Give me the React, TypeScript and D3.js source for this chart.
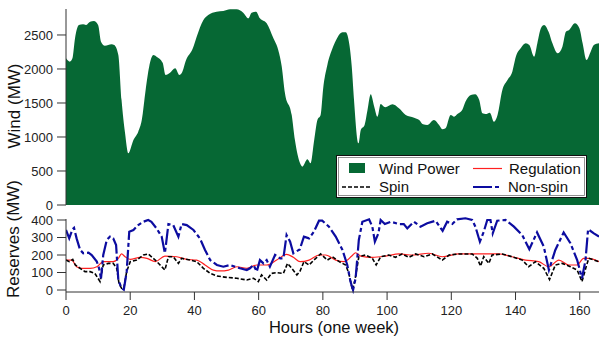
import React from "react";
import * as d3 from "d3";

// ---------- data ----------
const windHours = [0, 1.2, 2, 2.8, 4, 5.3, 6.2, 7.5, 8.7, 10, 10.9, 12.1, 14.2, 15, 16.3, 17.3, 18.4, 19.4, 21, 22.5, 23.6, 24.8, 25.9, 27.2, 28.2, 30.1, 31, 32.4, 34, 35.3, 36, 37.4, 39.5, 40.7, 42.8, 44.3, 46.9, 49, 51.1, 53.1, 55.2, 56.8, 57.8, 59.2, 60.4, 62.5, 64.6, 66.1, 67.2, 68.2, 70.3, 71.3, 72.9, 73.6, 75.2, 76.2, 77.3, 78.3, 79.3, 80.1, 81.4, 83, 84.5, 86.1, 87.1, 87.9, 89, 89.7, 91.1, 91.8, 93, 93.9, 94.9, 96, 97, 98, 99.4, 101.7, 103.7, 105.8, 108.4, 110, 111.2, 112.5, 114.6, 116.2, 117.2, 118.2, 119.8, 120.9, 121.9, 123.4, 124.4, 126.1, 127.4, 128.7, 129.7, 130.7, 132, 133.3, 134.4, 135.9, 137.5, 139, 140.1, 141.6, 143.2, 144.3, 145.8, 146.8, 147.9, 148.9, 150.3, 151.5, 153.1, 154.6, 155.7, 156.7, 158.5, 159.9, 160.9, 162.1, 163.4, 164.4, 166];
const windMW = [2157, 2108, 2157, 2450, 2647, 2657, 2647, 2696, 2706, 2647, 2402, 2343, 2363, 2353, 2206, 1544, 1054, 760, 956, 1078, 1250, 1691, 2034, 2206, 2181, 2093, 1912, 1946, 2010, 1912, 1936, 2132, 2304, 2475, 2720, 2794, 2843, 2853, 2877, 2877, 2828, 2745, 2828, 2843, 2745, 2672, 2451, 2279, 2034, 1642, 1324, 956, 613, 564, 672, 613, 956, 1250, 1324, 1716, 2059, 2304, 2461, 2539, 2539, 2451, 2034, 1544, 907, 1103, 1176, 1397, 1628, 1446, 1299, 1485, 1436, 1480, 1421, 1324, 1284, 1250, 1186, 1176, 1250, 1176, 1113, 1127, 1324, 1299, 1338, 1397, 1519, 1618, 1628, 1544, 1348, 1338, 1358, 1225, 1324, 1691, 1838, 1961, 2181, 2304, 2377, 2353, 2181, 2377, 2598, 2647, 2549, 2377, 2230, 2328, 2549, 2574, 2672, 2598, 2377, 2132, 2255, 2353, 2377];

const regHours = [0, 1.8, 3.3, 4.9, 7.5, 9.6, 11.6, 14.7, 16.3, 17.3, 18.4, 20, 23.1, 25.2, 27.8, 30.8, 34.5, 37.6, 40.7, 43.3, 45.9, 48, 50.6, 53.2, 56.3, 59.4, 62.5, 65.6, 68.7, 70.8, 72.9, 75.7, 78.8, 80.9, 84, 86.6, 89, 90.2, 91.8, 95.4, 99.6, 103.7, 107.9, 113, 117.2, 122.3, 128.5, 134.7, 138.9, 143.1, 147.2, 150.4, 153.5, 156.6, 159.2, 161.2, 162.7, 166];
const regMW = [171, 171, 133, 124, 124, 133, 162, 162, 181, 206, 190, 175, 187, 181, 162, 194, 190, 175, 171, 143, 114, 109, 114, 133, 124, 143, 143, 171, 204, 187, 162, 171, 200, 200, 171, 162, 194, 213, 194, 187, 194, 206, 200, 210, 190, 206, 206, 206, 190, 171, 162, 133, 171, 143, 143, 181, 181, 162];

const spinHours = [0, 1, 2.1, 2.9, 4.4, 5.9, 7.5, 9, 10.6, 11.6, 13.2, 14.7, 15.8, 16.5, 17.3, 18, 18.9, 20, 22, 24.1, 25.6, 27.8, 29.3, 30.8, 31.9, 33.4, 35, 36, 38.6, 40.7, 42.8, 44.9, 47, 50.1, 53.2, 56.3, 58.4, 59.9, 60.9, 62.5, 64, 65.6, 67.7, 69, 70.3, 71.9, 72.9, 74.1, 75.7, 77.2, 79.3, 81.4, 83, 85.1, 87.1, 88.1, 89.2, 90, 91.2, 93.3, 95.4, 96.6, 98, 100.5, 102.6, 104.7, 106.8, 108.9, 111.5, 114.1, 117.2, 119.3, 122.3, 126.5, 128.1, 129.1, 130.1, 131.7, 132.7, 135.9, 138.9, 142.1, 144.1, 146.2, 148.8, 150.6, 152.4, 154.5, 157.1, 159.2, 160.7, 162, 162.8, 166];
const spinMW = [171, 162, 175, 143, 124, 105, 105, 95, 48, 143, 152, 152, 124, 38, 10, 10, 105, 162, 171, 200, 206, 171, 143, 114, 190, 190, 152, 181, 171, 162, 124, 95, 80, 72, 67, 57, 67, 48, 86, 57, 95, 99, 95, 152, 124, 86, 108, 162, 143, 171, 206, 171, 190, 162, 143, 95, 0, 57, 190, 200, 181, 143, 190, 200, 187, 206, 187, 206, 190, 206, 171, 200, 206, 206, 181, 137, 190, 152, 200, 206, 190, 171, 133, 162, 124, 60, 143, 152, 133, 114, 48, 133, 181, 162];

const nonSpinHours = [0, 1, 2, 2.5, 3.3, 4.4, 5.4, 7, 8, 9.6, 10.3, 10.9, 11.6, 12.7, 13.7, 14.7, 15.6, 16.3, 17.3, 18, 18.9, 19.7, 21, 22.5, 24.1, 25.6, 26.6, 28.2, 29.8, 30.8, 31.9, 33.4, 35, 36, 37.6, 39.7, 41.7, 43.3, 44.9, 47, 49, 51.1, 52.7, 54.2, 56.3, 57.3, 58.4, 59.4, 60.4, 61.5, 62.5, 63.5, 65.1, 66.7, 67.7, 68.7, 69.8, 70.8, 72.8, 74.1, 75.7, 77.2, 78.8, 79.8, 81.9, 84, 86.1, 87.6, 88.6, 89.4, 90.2, 91.2, 92.3, 94.4, 95.4, 96.2, 97.3, 98, 99.3, 101.1, 103.7, 105.2, 106.3, 108.4, 110.4, 112.5, 115.1, 117.3, 118.7, 120.3, 121.8, 124.4, 126.5, 127.5, 128.9, 130.1, 131.2, 132.2, 132.9, 134.3, 136.9, 139.5, 142.1, 144.3, 146.7, 148.8, 150.4, 152.4, 155, 157.1, 159.2, 160.7, 161.8, 162.6, 164.4, 166];
const nonSpinMW = [343, 295, 347, 355, 295, 229, 210, 213, 200, 162, 124, 67, 200, 286, 305, 295, 257, 57, 10, 2, 105, 333, 343, 371, 390, 400, 390, 352, 305, 210, 377, 371, 305, 377, 371, 343, 295, 229, 171, 143, 133, 143, 133, 124, 114, 124, 143, 105, 171, 152, 171, 133, 200, 181, 181, 314, 276, 210, 232, 305, 295, 333, 396, 396, 362, 305, 229, 143, 48, 0, 67, 286, 390, 404, 362, 276, 324, 400, 377, 390, 377, 377, 352, 390, 362, 381, 396, 338, 390, 377, 404, 410, 400, 362, 276, 333, 400, 400, 324, 396, 400, 362, 314, 233, 329, 248, 114, 229, 329, 267, 171, 67, 171, 347, 324, 305];

const windTicks = [0, 500, 1000, 1500, 2000, 2500];
const reserveTicks = [0, 100, 200, 300, 400];
const hourTicks = [0, 20, 40, 60, 80, 100, 120, 140, 160];

// ---------- styles ----------
const FONT = "'Liberation Sans', Arial, Helvetica, sans-serif";
const GREEN = "#066834";
const RED = "#ff2020";
const BLUE = "#0c0ca0";
const AXIS = "#333";

export default function App() {
  const W = 599, H = 338;
  const x = d3.scaleLinear().domain([0, 166]).range([66, 599]);
  const yW = d3.scaleLinear().domain([0, 2882]).range([205, 9]);
  const yR = d3.scaleLinear().domain([0, 400]).range([290, 220]);
  const xAxisY = 292;

  const windData = windHours.map((h, i) => [h, windMW[i]] as [number, number]);
  const area = d3
    .area<[number, number]>()
    .x((d) => x(d[0]))
    .y0(yW(0))
    .y1((d) => yW(d[1]))
    .curve(d3.curveMonotoneX);

  const mk = (hs: number[], vs: number[]) => hs.map((h, i) => [h, vs[i]] as [number, number]);
  const lineGen = (curve: any) =>
    d3
      .line<[number, number]>()
      .x((d) => x(d[0]))
      .y((d) => yR(d[1]))
      .curve(curve);

  const regPath = lineGen(d3.curveMonotoneX)(mk(regHours, regMW)) || "";
  const spinPath = lineGen(d3.curveLinear)(mk(spinHours, spinMW)) || "";
  const nonSpinPath = lineGen(d3.curveLinear)(mk(nonSpinHours, nonSpinMW)) || "";

  const x0 = x(0);

  return (
    <svg
      width={W}
      height={H}
      style={{ position: "absolute", left: 0, top: 0, background: "#fff" }}
      fontFamily={FONT}
    >
      <defs>
        <clipPath id="clipB">
          <rect x={x0} y={200} width={W - x0} height={xAxisY - 200 + 2} />
        </clipPath>
      </defs>

      {/* Top panel: wind area */}
      <path d={area(windData) || ""} fill={GREEN} />
      <line x1={x0} x2={x0} y1={yW(2882)} y2={yW(0)} stroke={AXIS} strokeWidth={1} />
      {windTicks.map((t) => (
        <g key={"w" + t}>
          <line x1={x0 - 9} x2={x0} y1={yW(t)} y2={yW(t)} stroke={AXIS} />
          <text x={x0 - 13} y={yW(t)} dy="0.36em" textAnchor="end" fontSize={13} fill="#222">
            {t}
          </text>
        </g>
      ))}
      <text
        transform={`translate(20,106) rotate(-90)`}
        textAnchor="middle"
        fontSize={17}
        fill="#111"
      >
        Wind (MW)
      </text>

      {/* Legend */}
      <g>
        <rect x={336.5} y={155.5} width={250} height={42} fill="#fff" stroke="#111" strokeWidth={1} />
        <rect x={338.5} y={157.5} width={246} height={38} fill="none" stroke="#777" strokeWidth={0.8} />
        <rect x={349} y={163} width={16} height={10} fill={GREEN} />
        <text x={379} y={173.5} fontSize={15} fill="#111">Wind Power</text>
        <line x1={473} x2={502} y1={168.5} y2={168.5} stroke={RED} strokeWidth={1.2} />
        <text x={509} y={173.5} fontSize={15} fill="#111">Regulation</text>
        <line x1={342} x2={372} y1={187} y2={187} stroke="#000" strokeWidth={1.5} strokeDasharray="4,2" />
        <text x={379} y={192} fontSize={15} fill="#111">Spin</text>
        <line x1={473} x2={502} y1={187} y2={187} stroke={BLUE} strokeWidth={2} strokeDasharray="19,3,4,3" />
        <text x={508} y={192} fontSize={15} fill="#111">Non-spin</text>
      </g>

      {/* Bottom panel: reserves */}
      <g clipPath="url(#clipB)">
        <path d={regPath} fill="none" stroke={RED} strokeWidth={1.2} />
        <path d={spinPath} fill="none" stroke="#000" strokeWidth={1.6} strokeDasharray="4,2" />
        <path d={nonSpinPath} fill="none" stroke={BLUE} strokeWidth={2.2} strokeDasharray="16,3,4,3" />
      </g>
      <line x1={x0} x2={x0} y1={219} y2={xAxisY} stroke={AXIS} />
      <line x1={x0} x2={W} y1={xAxisY} y2={xAxisY} stroke={AXIS} />
      {reserveTicks.map((t) => (
        <g key={"r" + t}>
          <line x1={x0 - 9} x2={x0} y1={yR(t)} y2={yR(t)} stroke={AXIS} />
          <text x={x0 - 13} y={yR(t)} dy="0.36em" textAnchor="end" fontSize={13} fill="#222">
            {t}
          </text>
        </g>
      ))}
      {hourTicks.map((t) => (
        <g key={"h" + t}>
          <line x1={x(t)} x2={x(t)} y1={xAxisY} y2={xAxisY + 8} stroke={AXIS} />
          <text x={x(t)} y={315} textAnchor="middle" fontSize={13} fill="#222">
            {t}
          </text>
        </g>
      ))}
      <text
        transform={`translate(19,239) rotate(-90)`}
        textAnchor="middle"
        fontSize={17}
        fill="#111"
      >
        Reserves (MW)
      </text>
      <text x={334} y={333} textAnchor="middle" fontSize={16.5} fill="#111">
        Hours (one week)
      </text>
    </svg>
  );
}
